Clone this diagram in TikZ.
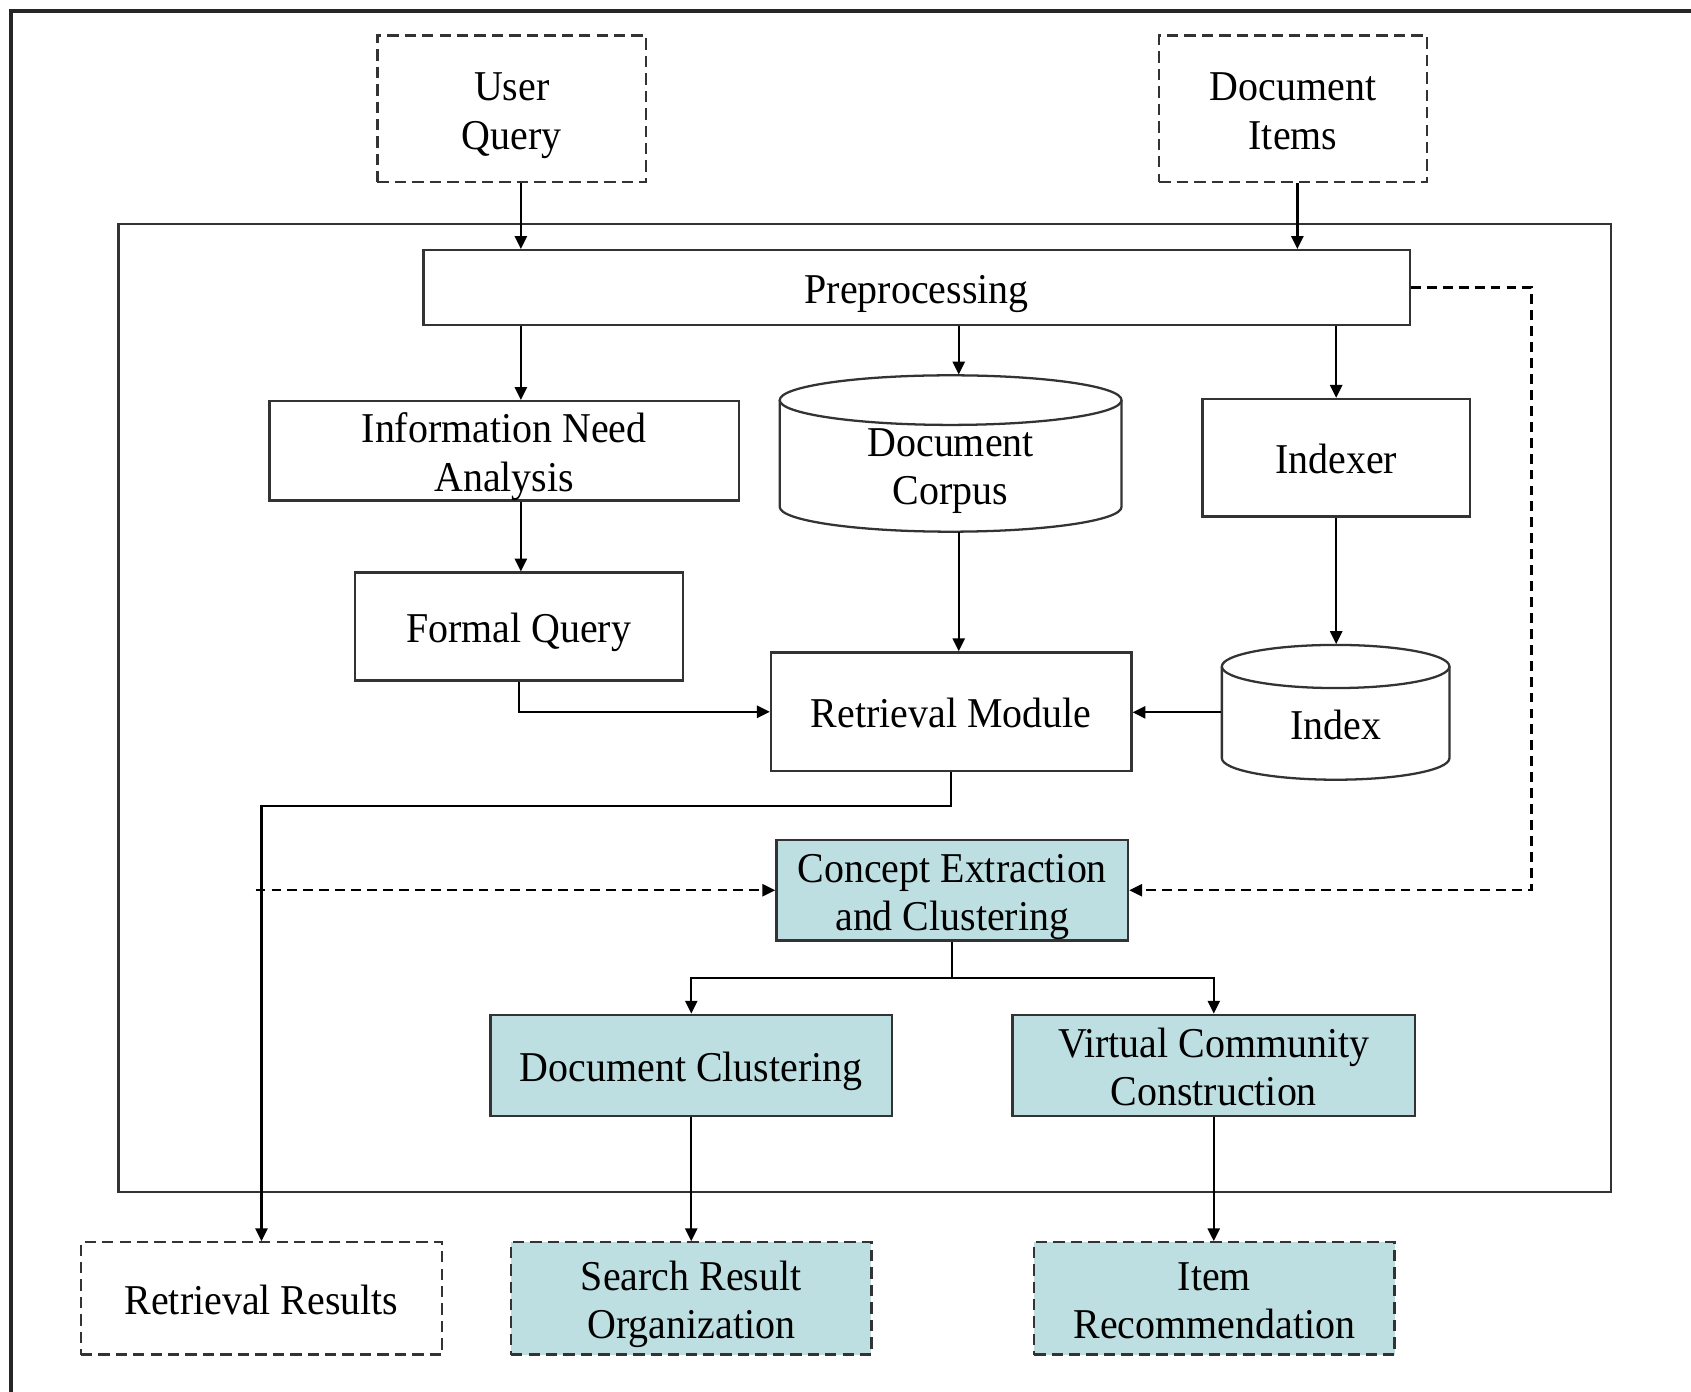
\documentclass[tikz,border=0pt]{standalone}
\usepackage{fontspec}
\setmainfont{Liberation Serif}[FakeStretch=0.94]
\usetikzlibrary{arrows.meta,calc}
\definecolor{teal1}{HTML}{BDDFE2}
\definecolor{ln}{HTML}{333333}
\newcommand{\tx}[1]{\raisebox{-1.7pt}[\height][\depth]{\begin{tabular}{@{}c@{}}#1\end{tabular}}}
\begin{document}
\begin{tikzpicture}[x=0.01cm,y=-0.01cm,
  font=\fontsize{11.2pt}{12.8pt}\selectfont,
  box/.style={draw=ln,line width=0.6pt,rectangle,align=center,inner sep=0pt},
  dbox/.style={box,dash pattern=on 3pt off 1.6pt},
  tbox/.style={fill=teal1},
  plain/.style={draw=none,align=center,inner sep=0pt},
  arr/.style={draw=black,line width=0.6pt,-{Triangle[length=3.4pt,width=3.2pt]}},
  darr/.style={arr,dash pattern=on 2.6pt off 1.6pt},
  cyl/.style={draw=ln,line width=0.6pt,fill=white}]
\useasboundingbox (0,0) rectangle (1568,1290);
% outer frame
\draw[line width=1.1pt,black!85] (10,1300) -- (10,10) -- (1580,10);
% inner box
\draw[line width=0.6pt,ln] (110,208) rectangle (1494,1105);

% inputs
\node[dbox,minimum width=2.49cm,minimum height=1.36cm] (uq) at (474.5,101) {\tx{User\\Query}};
\node[dbox,minimum width=2.48cm,minimum height=1.36cm] (di) at (1199,101) {\tx{Document\\Items}};

\node[box,minimum width=9.14cm,minimum height=0.69cm] (pre) at (850,266.5) {\tx{Preprocessing}};
\node[box,minimum width=4.35cm,minimum height=0.92cm] (ina) at (467.5,418) {\tx{Information Need\\Analysis}};
\node[box,minimum width=2.48cm,minimum height=1.09cm] (idxr) at (1239,424.5) {\tx{Indexer}};
\node[box,minimum width=3.04cm,minimum height=1.00cm] (fq) at (481,581) {\tx{Formal Query}};
\node[box,minimum width=3.34cm,minimum height=1.10cm] (rm) at (882,660) {\tx{Retrieval Module}};

% Document Corpus cylinder: x 723-1040, y 348-493
\draw[cyl] (723,371) -- (723,470) arc[start angle=180,end angle=0,x radius=158.5,y radius=23] -- (1040,371);
\draw[cyl] (881.5,371) ellipse[x radius=158.5,y radius=23];
\node[plain,minimum width=3.17cm,minimum height=1.45cm] (corpus) at (881.5,420.5) {};
\node[plain] (corpustxt) at (881.5,437) {Document\\Corpus};

% Index cylinder: x 1133-1344, y 598-723
\draw[cyl] (1133,618) -- (1133,703) arc[start angle=180,end angle=0,x radius=105.5,y radius=20] -- (1344,618);
\draw[cyl] (1238.5,618) ellipse[x radius=105.5,y radius=20];
\node[plain,minimum width=2.11cm,minimum height=1.25cm] (index) at (1238.5,660.5) {};
\node[plain] (indextxt) at (1238.5,672) {Index};

\node[box,tbox,minimum width=3.26cm,minimum height=0.93cm] (cec) at (883,825.5) {\tx{Concept Extraction\\and Clustering}};
\node[box,tbox,minimum width=3.72cm,minimum height=0.94cm] (dc) at (641,988) {\tx{Document Clustering}};
\node[box,tbox,minimum width=3.73cm,minimum height=0.94cm] (vcc) at (1125.5,988) {\tx{Virtual Community\\Construction}};

\node[dbox,minimum width=3.35cm,minimum height=1.04cm] (rr) at (242.5,1204) {\tx{Retrieval Results}};
\node[dbox,tbox,minimum width=3.34cm,minimum height=1.04cm] (sro) at (641,1204) {\tx{Search Result\\Organization}};
\node[dbox,tbox,minimum width=3.34cm,minimum height=1.04cm] (ir) at (1126,1204) {\tx{Item\\Recommendation}};

% helper coordinates
\coordinate (c1) at (483,0);
\coordinate (c2) at (889,0);
\coordinate (c4) at (1203,0);
\coordinate (dr) at (1420,0);
\coordinate (dl) at (237,825.5);
\coordinate (sp) at (883,907);

% connectors
\draw[arr] (c1 |- uq.south) -- (c1 |- pre.north);
\draw[arr] (c4 |- di.south) -- (c4 |- pre.north);
\draw[arr] (c1 |- pre.south) -- (c1 |- ina.north);
\draw[arr] (c2 |- pre.south) -- (c2 |- corpus.north);
\draw[arr] (idxr.north |- pre.south) -- (idxr.north);
\draw[arr] (c1 |- ina.south) -- (c1 |- fq.north);
\draw[arr] (c2 |- corpus.south) -- (c2 |- rm.north);
\draw[arr] (idxr.south) -- (idxr.south |- index.north);
\draw[arr] (index.west) -- (index.west -| rm.east);
\draw[arr] (fq.south) |- (rm.west);
\draw[arr] (rm.south) -- ++(0,31) -| (rr.north);
\draw[darr] (dl) -- (cec.west);
\draw[darr] (pre.east) -- (pre.east -| dr) -- (dr |- cec.east) -- (cec.east);
\draw[line width=0.6pt] (cec.south) -- (sp);
\draw[arr] (sp) -| (dc.north);
\draw[arr] (sp) -| (vcc.north);
\draw[arr] (dc.south) -- (sro.north);
\draw[arr] (vcc.south) -- (vcc.south |- ir.north);
\end{tikzpicture}
\end{document}
